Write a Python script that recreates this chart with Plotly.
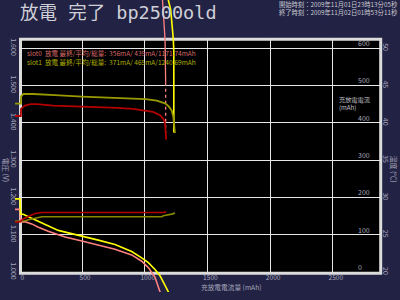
import plotly.graph_objects as go

# ---------------- data ----------------
x_ticks = [0, 500, 1000, 1500, 2000, 2500]
x_ticktext = ["0", "500", "1000", "1500", "2000", "2500"]
volt_ticks = [1.0, 1.1, 1.2, 1.3, 1.4, 1.5, 1.6]
volt_ticktext = ["1.000", "1.100", "1.200", "1.300", "1.400", "1.500", "1.600"]
curr_ticks = [0, 100, 200, 300, 400, 500, 600]
temp_ticks = [20, 25, 30, 35, 40, 45, 50]

slots = ["slot0", "slot1"]
final_current = [356, 371]
avg_current = [439, 465]
total_mah = [1171.74, 1240.69]

# voltage (V)
slot0_v_x = [-34, 12, 14, 45, 90, 140, 270, 500, 645, 780, 905, 1008, 1066, 1122, 1148, 1162, 1168, 1171]
slot0_v_y = [1.418, 1.418, 1.437, 1.446, 1.450, 1.450, 1.446, 1.444, 1.442, 1.440, 1.437, 1.433, 1.429, 1.420, 1.411, 1.398, 1.380, 1.355]
slot1_v_x = [-34, 12, 14, 32, 110, 190, 285, 500, 645, 780, 905, 1008, 1096, 1162, 1188, 1215, 1228, 1241]
slot1_v_y = [1.451, 1.451, 1.470, 1.477, 1.477, 1.475, 1.474, 1.470, 1.468, 1.466, 1.465, 1.463, 1.459, 1.452, 1.445, 1.433, 1.416, 1.372]

# temperature (C)
slot0_t_x = [-34, 6, 30, 72, 125, 180, 860, 880, 900, 960, 975, 990, 1030, 1045, 1060, 1150, 1160, 1171]
slot0_t_y = [26.68, 26.75, 27.1, 27.45, 27.85, 27.98, 27.98, 27.9, 27.98, 27.98, 27.9, 27.98, 27.98, 27.9, 27.98, 27.98, 28.05, 28.05]
slot1_t_x = [-34, 45, 99, 152, 179, 1136, 1148, 1215, 1241]
slot1_t_y = [26.8, 26.88, 27.1, 27.33, 27.4, 27.4, 27.54, 27.76, 27.89]

# current-scale curves (mA)
slot0_c_x = [-34, 6, 10, 45, 99, 152, 231, 364, 498, 630, 763, 896, 976, 1029, 1082, 1122, 1135]
slot0_c_y = [168, 168, 134, 135, 129, 120, 109, 94, 83, 72.5, 61, 46, 29, 12, -14, -53, -90]
slot1_c_x = [-34, 6, 10, 32, 72, 125, 179, 231, 311, 391, 498, 630, 763, 896, 976, 1029, 1082, 1122, 1162, 1188, 1218]
slot1_c_y = [196, 196, 155, 155, 148, 139.5, 131, 123, 111.6, 105, 97, 85.5, 74, 55, 38, 25, 7, -10, -36, -53, -80]

# end-of-discharge current traces (mA)
slot0_end_x = [1128, 1142, 1162, 1167]
slot0_end_y = [800, 729, 624, 507]
slot0_tail_x = [1167, 1167]
slot0_tail_y = [507, 372]
slot1_end_x = [1180, 1188, 1207, 1215, 1228, 1232, 1232]
slot1_end_y = [760, 729, 703, 677, 624, 590, 398]
slot1_tail_x = [1232, 1232]
slot1_tail_y = [398, 371]

# ---------------- geometry / style ----------------
W, H = 400, 300
PL, PR, PT, PB = 19.3, 380.5, 40.0, 279.5
X_RANGE = [0, 2880]
I_RANGE = [0, 624.5]
V_RANGE = [1.0, 1.6245]
T_RANGE = [20, 51.225]


def extend(rng, lo_px, hi_px, span_px):
    s = (rng[1] - rng[0]) / span_px
    return [rng[0] - lo_px * s, rng[1] + hi_px * s]


x_full = extend(X_RANGE, PL, W - PR, PR - PL)
i_full = extend(I_RANGE, H - PB, PT, PB - PT)
v_full = extend(V_RANGE, H - PB, PT, PB - PT)
t_full = extend(T_RANGE, H - PB, PT, PB - PT)

BG = "#222244"
GRID = "#e6e6e6"
LBL = "#a8a8bc"
FONT = "Noto Sans CJK JP"
MONO = "DejaVu Sans Mono, Noto Sans CJK JP"
RED = "#b40000"
OLIVE = "#9a9a00"
PINK = "#ff8080"
YELLOW = "#ffff00"

fig = go.Figure()

# invisible carriers so the main subplot axes (voltage / temperature) are drawn
fig.add_trace(go.Scatter(x=slot0_v_x, y=slot0_v_y, xaxis="x", yaxis="y", mode="lines",
                         line=dict(width=0), opacity=0, hoverinfo="skip", showlegend=False))
fig.add_trace(go.Scatter(x=slot0_t_x, y=slot0_t_y, xaxis="x", yaxis="y3", mode="lines",
                         line=dict(width=0), opacity=0, hoverinfo="skip", showlegend=False))


def add(x, y, ya, color, width=1.8, dash="solid"):
    fig.add_trace(go.Scatter(x=x, y=y, xaxis="x2", yaxis=ya, mode="lines",
                             line=dict(color=color, width=width, dash=dash),
                             hoverinfo="skip", showlegend=False))


add(slot1_t_x, slot1_t_y, "y5", "#888800", 1.6)
add(slot0_t_x, slot0_t_y, "y5", RED, 1.6)
add(slot1_v_x, slot1_v_y, "y4", OLIVE, 1.8)
add(slot0_v_x, slot0_v_y, "y4", RED, 1.8)
add(slot0_c_x, slot0_c_y, "y2", PINK, 1.6)
add(slot1_c_x, slot1_c_y, "y2", YELLOW, 1.6)
add(slot0_end_x, slot0_end_y, "y2", PINK, 1.3)
add(slot0_tail_x, slot0_tail_y, "y2", PINK, 1.3, "dot")
add(slot1_end_x, slot1_end_y, "y2", YELLOW, 1.6)
add(slot1_tail_x, slot1_tail_y, "y2", YELLOW, 1.6, "dash")

xdom = [PL / W, PR / W]
ydom = [(H - PB) / H, (H - PT) / H]

tickfont = dict(family=FONT, size=7, color=LBL)

fig.update_layout(
    width=W, height=H, autosize=False,
    margin=dict(l=0, r=0, t=0, b=0),
    paper_bgcolor=BG, plot_bgcolor="rgba(0,0,0,0)",
    showlegend=False,
    xaxis=dict(domain=xdom, range=X_RANGE, tickvals=x_ticks, ticktext=x_ticktext,
               showgrid=True, gridcolor=GRID, gridwidth=1, zeroline=False,
               showline=False, ticks="", tickfont=dict(family=FONT, size=6.6, color=LBL),
               ticklabelshift=3, ticklabelstandoff=0,
               fixedrange=True, anchor="y"),
    yaxis=dict(domain=ydom, range=V_RANGE, tickvals=volt_ticks, ticktext=volt_ticktext,
               showgrid=True, gridcolor=GRID, gridwidth=1, zeroline=False,
               showline=False, ticks="", tickangle=90, tickfont=tickfont,
               fixedrange=True, anchor="x"),
    yaxis3=dict(overlaying="y", side="right", anchor="x", range=T_RANGE,
                tickvals=temp_ticks, ticktext=[str(t) for t in temp_ticks],
                showgrid=False, zeroline=False, showline=False, ticks="",
                tickangle=90, tickfont=tickfont, fixedrange=True),
    xaxis2=dict(domain=[0, 1], range=x_full, visible=False, anchor="y2", fixedrange=True),
    yaxis2=dict(domain=[0, 1], range=i_full, visible=False, anchor="x2", fixedrange=True),
    yaxis4=dict(overlaying="y2", range=v_full, visible=False, anchor="x2", fixedrange=True),
    yaxis5=dict(overlaying="y2", range=t_full, visible=False, anchor="x2", fixedrange=True),
)

# plot area background and frame
fig.add_shape(type="rect", xref="paper", yref="paper",
              x0=xdom[0], x1=xdom[1], y0=ydom[0], y1=ydom[1],
              fillcolor="black", line=dict(width=0), layer="below")
fig.add_shape(type="rect", xref="paper", yref="paper",
              x0=(PL + 1.2) / W, x1=(PR + 0.2) / W, y0=(H - PB - 1.2) / H, y1=(H - PT - 0.3) / H,
              fillcolor="rgba(0,0,0,0)", line=dict(width=3, color="#dcdcdc"), layer="below")

ann = []
# title
ann.append(dict(text="放電 完了 bp2500old", x=19 / W, y=1 - 12.5 / H, xref="paper", yref="paper",
                xanchor="left", yanchor="middle", showarrow=False, borderpad=0,
                font=dict(family=MONO, size=18.5, color="#cfcfd8")))
# times
ann.append(dict(text="開始時刻：2009年11月01日23時13分05秒<br>終了時刻：2009年11月02日01時53分11秒",
                x=399 / W, y=1 - 8.5 / H, xref="paper", yref="paper", xanchor="right", yanchor="middle",
                align="left", showarrow=False, borderpad=0,
                font=dict(family=FONT, size=6.3, color="#c8c8d0")))
# legend lines (single block, two colours)
leg_colors = ["#d86a6a", "#b0b000"]
leg_lines = []
for k, s in enumerate(slots):
    txt = (f"{s}\u00a0\u00a0放電\u00a0最終/平均/総量:\u00a0\u00a0{final_current[k]}mA/"
           f"\u00a0{avg_current[k]}mA/{total_mah[k]:.2f}mAh")
    leg_lines.append(f"<span style='color:{leg_colors[k]}'>{txt}</span>")
ann.append(dict(text="<br>".join(leg_lines), x=26 / W, y=1 - 59.2 / H, xref="paper", yref="paper",
                xanchor="left", yanchor="middle", align="left", showarrow=False, borderpad=0,
                font=dict(family=FONT, size=6.6, color=leg_colors[0])))
# current tick labels inside
for v in curr_ticks:
    ann.append(dict(text=str(v), x=357 / W, y=v, xref="paper", yref="y2",
                    xanchor="left", yanchor="middle", yshift=5, showarrow=False, borderpad=0,
                    font=dict(family=FONT, size=7, color=LBL)))
ann.append(dict(text="充放電電流<br>(mAh)", x=338 / W, y=1 - 106.5 / H, xref="paper", yref="paper",
                xanchor="left", yanchor="middle", align="left", showarrow=False, borderpad=0,
                font=dict(family=FONT, size=6.2, color="#c0c0c8")))
# axis titles
ann.append(dict(text="充放電電流量 (mAh)", x=200 / W, y=1 - 294.5 / H, xref="paper", yref="paper",
                xanchor="left", yanchor="middle", showarrow=False, borderpad=0,
                font=dict(family=FONT, size=6.7, color=LBL)))
ann.append(dict(text="電圧 (V)", x=5.5 / W, y=1 - 174 / H, xref="paper", yref="paper",
                xanchor="center", yanchor="middle", textangle=90, showarrow=False, borderpad=0,
                font=dict(family=FONT, size=7, color=LBL)))
ann.append(dict(text="温度 (℃)", x=394 / W, y=1 - 173 / H, xref="paper", yref="paper",
                xanchor="center", yanchor="middle", textangle=90, showarrow=False, borderpad=0,
                font=dict(family=FONT, size=7, color=LBL)))
fig.update_layout(annotations=ann)

fig.write_html("out.html")
